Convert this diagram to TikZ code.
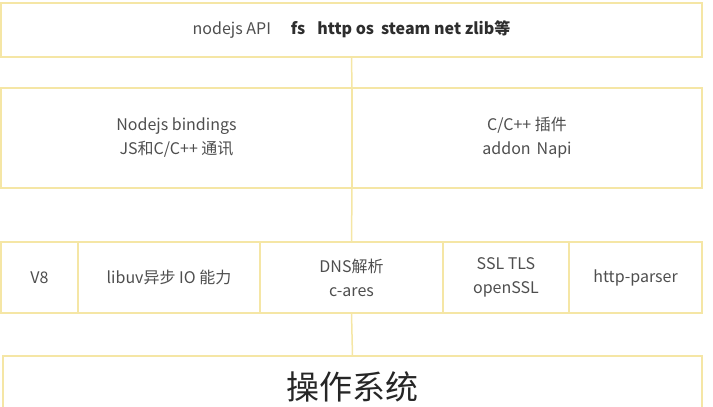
\documentclass[tikz,border=0pt]{standalone}
\usepackage{fontspec}
\setmainfont{Noto Sans CJK SC}
\usetikzlibrary{positioning}
\definecolor{boxline}{RGB}{245,230,165}
\definecolor{txt}{RGB}{78,78,78}
\newcommand{\modname}[1]{\textcolor{black!82}{\bfseries #1}}

\begin{document}
\begin{tikzpicture}[x=1pt,y=-1pt,
    layer/.style={draw=boxline,line width=1.5pt,inner sep=0pt,outer sep=0pt,
      anchor=north west,align=center,text=txt,font=\fontsize{16}{24}\selectfont},
    link/.style={draw=boxline,line width=1.5pt}]
  \useasboundingbox (0,0) rectangle (713,407);
  \clip (0,0) rectangle (713,407);

  \node [layer,minimum width=701pt,minimum height=54pt] (api) at (1,3)
    {nodejs API\hspace{20pt}\modname{fs\hspace{12pt}http os\hspace{7pt}steam net zlib等}};

  \node [layer,minimum width=351pt,minimum height=100pt] (bind) at (1,88)
    {Nodejs bindings\\JS和C/C++ 通讯};
  \node [layer,minimum width=350pt,minimum height=100pt,right=0pt of bind] (addon)
    {C/C++ 插件\\addon\hspace{6pt}Napi};

  \node [layer,minimum width=77pt,minimum height=71pt] (v8) at (1,242) {V8};
  \node [layer,minimum width=182pt,minimum height=71pt,right=0pt of v8] (libuv) {libuv异步 IO 能力};
  \node [layer,minimum width=183pt,minimum height=71pt,right=0pt of libuv] (dns) {DNS解析\\c-ares};
  \node [layer,minimum width=126pt,minimum height=71pt,right=0pt of dns] (ssl) {SSL TLS\\openSSL};
  \node [layer,minimum width=133pt,minimum height=71pt,right=0pt of ssl] (parser) {http-parser};

  \node [layer,minimum width=699pt,minimum height=62pt,
    font=\fontsize{33}{38}\selectfont,text=black!85] (os) at (3,356) {操作系统};

  \draw [link] (api.south) -- (bind.north east);
  \draw [link] (bind.south east) -- (dns.north);
  \draw [link] (dns.south) -- (os.north);
\end{tikzpicture}
\end{document}
